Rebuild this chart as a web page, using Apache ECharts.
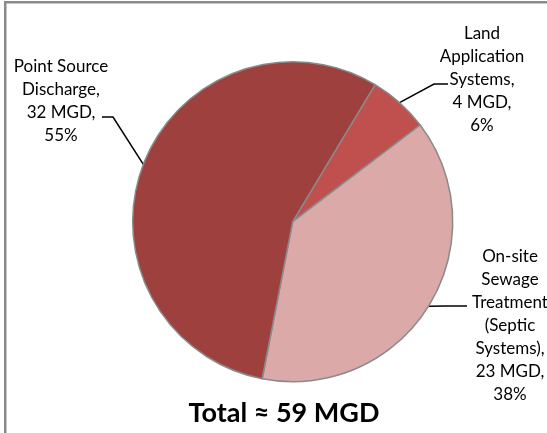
<!DOCTYPE html>
<html>
<head>
<meta charset="utf-8">
<script src="https://cdn.jsdelivr.net/npm/echarts@6/dist/echarts.min.js"></script>
<style>
  html, body { margin: 0; padding: 0; background: #fff; }
  #chart { width: 547px; height: 433px; }
</style>
</head>
<body>
<div id="chart"></div>
<script>
// Wastewater disposal by method (million gallons per day)
const categories = [
  'Land\nApplication\nSystems',
  'On-site\nSewage\nTreatment\n(Septic\nSystems)',
  'Point Source\nDischarge'
];
const flowMGD = [4, 23, 32];
const sharePct = [6, 38, 55];
const sliceColors = ['#C0504D', '#DAA9A8', '#9D403E'];

// label anchor (centre of text block) and leader-line elbow for each slice
const labelPlacement = [
  { x: 482, y: 80, elbow: [434, 84], end: [448, 84] },
  { x: 510, y: 326, elbow: [445, 306], end: [467, 306] },
  { x: 61, y: 101, elbow: [113, 117], end: [102, 117] }
];

const totalMGD = flowMGD.reduce((a, b) => a + b, 0);

const chart = echarts.init(document.getElementById('chart'), null, { renderer: 'canvas' });

const textFont = 'Lato, "Open Sans", sans-serif';

chart.setOption({
  animation: false,
  graphic: [
    { type: 'rect', shape: { x: 4, y: 1, width: 543, height: 2.5 }, style: { fill: '#8a8a8a' }, silent: true },
    { type: 'rect', shape: { x: 4, y: 1, width: 2.5, height: 432 }, style: { fill: '#8a8a8a' }, silent: true },
    {
      type: 'text', x: 284, y: 413,
      style: {
        text: 'Total \u2248 ' + totalMGD + ' MGD',
        font: 'bold 27px ' + textFont,
        fill: '#000', textAlign: 'center', textVerticalAlign: 'middle'
      },
      silent: true
    }
  ],
  series: [{
    type: 'pie',
    center: [292.7, 221.7],
    radius: 160,
    startAngle: 59,
    clockwise: true,
    avoidLabelOverlap: false,
    silent: true,
    itemStyle: { borderColor: '#8a8a8a', borderWidth: 1.5 },
    label: {
      show: true,
      position: 'outside',
      fontFamily: textFont,
      fontSize: 17,
      lineHeight: 23,
      color: '#000',
      align: 'center',
      formatter: (p) => categories[p.dataIndex] + ',\n' +
        flowMGD[p.dataIndex] + ' MGD,\n' + sharePct[p.dataIndex] + '%'
    },
    labelLine: { show: true, lineStyle: { color: '#000', width: 1.5 } },
    labelLayout: (p) => {
      const pl = labelPlacement[p.dataIndex];
      const edge = p.labelLinePoints[0];
      return {
        x: pl.x, y: pl.y, align: 'center', verticalAlign: 'middle',
        labelLinePoints: [edge, pl.elbow, pl.end]
      };
    },
    data: sharePct.map((v, i) => ({
      value: v,
      name: categories[i],
      itemStyle: { color: sliceColors[i] }
    }))
  }]
});
</script>
</body>
</html>
